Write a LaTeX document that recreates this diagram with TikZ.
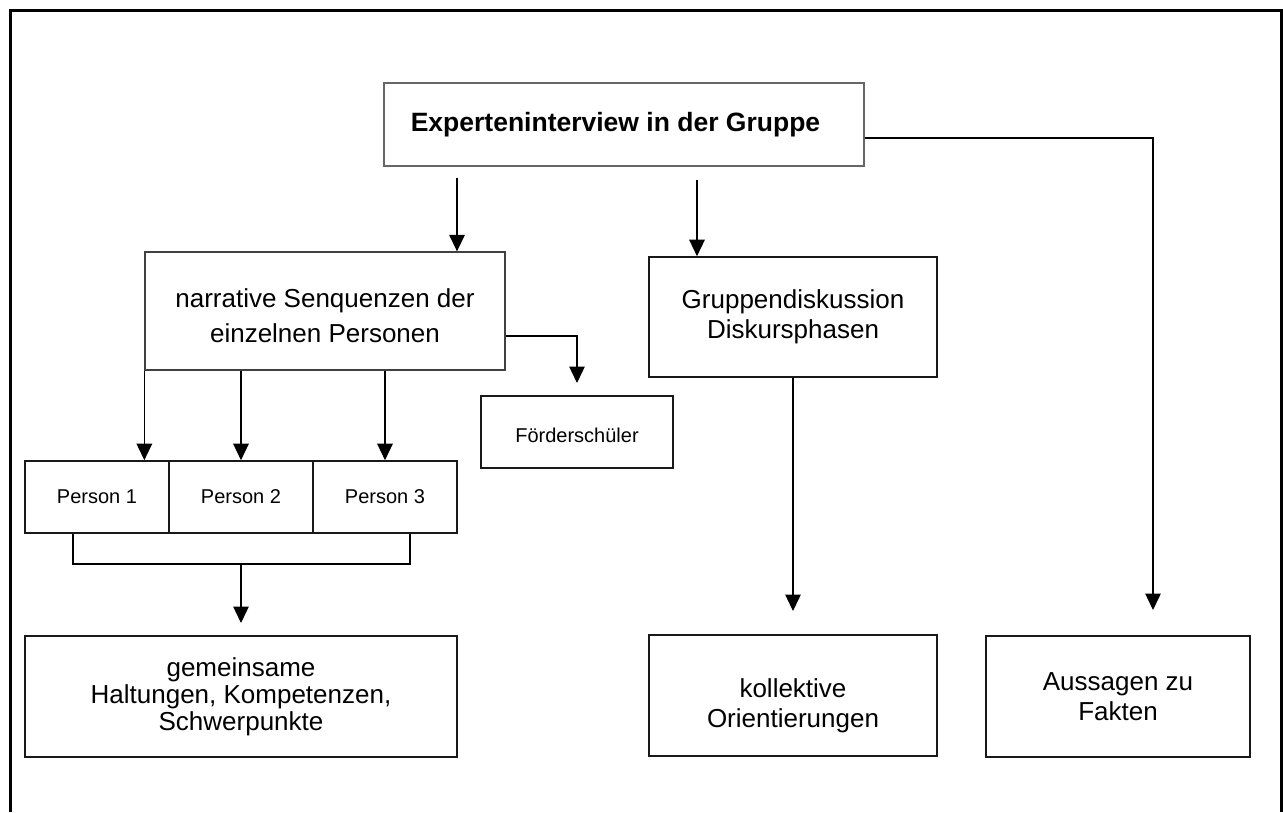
\documentclass[tikz,border=0pt]{standalone}
\usepackage{fontspec}
\setmainfont{Liberation Sans}
\usetikzlibrary{arrows.meta}
\begin{document}
\begin{tikzpicture}[x=1pt,y=-1pt,
  box/.style={draw=black!90, line width=1.6pt, rectangle, align=center,
    inner sep=0pt, font=\fontsize{26}{30}\selectfont},
  smallbox/.style={box, font=\fontsize{20}{24}\selectfont},
  link/.style={draw=black, line width=1.4pt},
  arr/.style={link, -{Triangle[width=15.5pt,length=16.5pt]}}]
\useasboundingbox (0,0) rectangle (1283,812);

% outer frame
\draw[line width=3pt] (10.5,812) -- (10.5,10.5) -- (1281,10.5) -- (1281,812);

% boxes
\node[box, draw=black!60, line width=1.3pt, minimum width=480pt, minimum height=83pt,
  font=\fontsize{26.5}{30}\selectfont\bfseries] (expert) at (624,124.5)
  {Experteninterview in der Gruppe\hspace*{17pt}};
\node[box, draw=black!75, line width=1.3pt, minimum width=360pt, minimum height=118pt,
  font=\fontsize{26}{35}\selectfont]
  (narr) at (325,311) {\rule{0pt}{29pt}narrative Senquenzen der\\einzelnen Personen};
\node[box, minimum width=288pt, minimum height=120pt] (grp) at (793,317)
  {Gruppendiskussion\\Diskursphasen};
\node[smallbox, minimum width=192pt, minimum height=72pt] (foerd) at (577,432)
  {\rule{0pt}{21pt}Förderschüler};
\node[smallbox, minimum width=144pt, minimum height=72pt] (p1) at (97,497) {Person 1};
\node[smallbox, minimum width=144pt, minimum height=72pt] (p2) at (241,497) {Person 2};
\node[smallbox, minimum width=144pt, minimum height=72pt] (p3) at (385,497) {Person 3};
\node[box, minimum width=432pt, minimum height=121pt,
  font=\fontsize{26}{27}\selectfont] (gem) at (241,696.5)
  {gemeinsame\\Haltungen, Kompetenzen,\\Schwerpunkte};
\node[box, minimum width=288pt, minimum height=121pt] (kol) at (793,695.5)
  {\rule{0pt}{39pt}kollektive\\Orientierungen};
\node[box, minimum width=264pt, minimum height=121pt] (aus) at (1118,696.5)
  {Aussagen zu\\Fakten};

% free ends of connectors
\coordinate (e1) at (457,178);
\coordinate (e2) at (697,180);
\coordinate (a1) at (1153,610);
\coordinate (k1) at (793,611);
\coordinate (f1) at (577,383);
\coordinate (b1) at (241,563);
\coordinate (g1) at (241,623);

% connectors
\draw[arr] (e1) -- (e1 |- narr.north);
\draw[arr] (e2) -- (e2 |- grp.north);
\draw[arr] ([yshift=-13.5pt]expert.east) -| (a1);
\draw[arr] (grp.south) -- (k1);
\draw[arr] ([yshift=-25pt]narr.east) -| (f1);
\draw[arr] (narr.south west) -- (narr.south west |- p1.north);
\draw[arr] (p2.north |- narr.south) -- (p2.north);
\draw[arr] (p3.north |- narr.south) -- (p3.north);
\draw[link] ([xshift=-24pt]p1.south) -- ++(0,30) -| ([xshift=25pt]p3.south);
\draw[arr] (b1) -- (g1);
\end{tikzpicture}
\end{document}
